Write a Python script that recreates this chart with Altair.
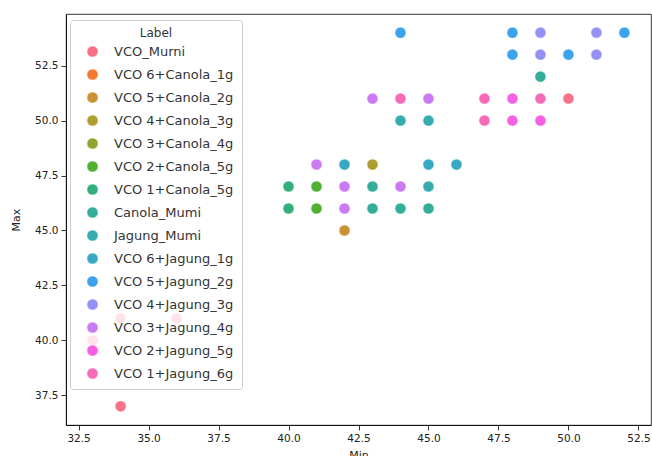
import math
import altair as alt
import pandas as pd

# ---------------- data ----------------
labels_order = [
    "VCO_Murni", "VCO 6+Canola_1g", "VCO 5+Canola_2g", "VCO 4+Canola_3g",
    "VCO 3+Canola_4g", "VCO 2+Canola_5g", "VCO 1+Canola_5g", "Canola_Mumi",
    "Jagung_Mumi", "VCO 6+Jagung_1g", "VCO 5+Jagung_2g", "VCO 4+Jagung_3g",
    "VCO 3+Jagung_4g", "VCO 2+Jagung_5g", "VCO 1+Jagung_6g",
]

point_label = (
    ["VCO_Murni"] * 5
    + ["VCO 5+Canola_2g"]
    + ["VCO 4+Canola_3g"]
    + ["VCO 2+Canola_5g"] * 2
    + ["VCO 1+Canola_5g"] * 2
    + ["Canola_Mumi"] * 5
    + ["Jagung_Mumi"] * 3
    + ["VCO 6+Jagung_1g"] * 3
    + ["VCO 5+Jagung_2g"] * 5
    + ["VCO 4+Jagung_3g"] * 4
    + ["VCO 3+Jagung_4g"] * 6
    + ["VCO 2+Jagung_5g"] * 3
    + ["VCO 1+Jagung_6g"] * 4
)
point_min = [
    34, 33, 34, 36, 50,
    42,
    43,
    41, 41,
    40, 40,
    43, 43, 44, 45, 49,
    45, 44, 45,
    42, 45, 46,
    44, 48, 52, 48, 50,
    49, 51, 49, 51,
    41, 42, 42, 44, 43, 45,
    48, 48, 49,
    44, 47, 49, 47,
]
point_max = [
    37, 40, 41, 41, 51,
    45,
    48,
    47, 46,
    47, 46,
    47, 46, 46, 46, 52,
    47, 50, 50,
    48, 48, 48,
    54, 54, 54, 53, 53,
    54, 54, 53, 53,
    48, 47, 46, 47, 51, 51,
    51, 50, 50,
    51, 51, 51, 50,
]

x_ticks = [32.5, 35.0, 37.5, 40.0, 42.5, 45.0, 47.5, 50.0, 52.5]
y_ticks = [37.5, 40.0, 42.5, 45.0, 47.5, 50.0, 52.5]

df = pd.DataFrame({"Label": point_label, "Min": point_min, "Max": point_max})

# ---------------- seaborn husl palette ----------------
_m = [[3.2406, -1.5372, -0.4986], [-0.9689, 1.8758, 0.0415], [0.0557, -0.2040, 1.0570]]


def _max_chroma(L, H):
    hrad = math.radians(H)
    sinH, cosH = math.sin(hrad), math.cos(hrad)
    sub1 = math.pow(L + 16, 3.0) / 1560896.0
    sub2 = sub1 if sub1 > 0.008856 else L / 903.3
    result = float("inf")
    for m1, m2, m3 in _m:
        top = (0.99915 * m1 + 1.05122 * m2 + 1.14460 * m3) * sub2
        rbottom = 0.86330 * m3 - 0.17266 * m2
        lbottom = 0.12949 * m3 - 0.38848 * m1
        bottom = (rbottom * sinH + lbottom * cosH) * sub2
        for t in (0.0, 1.0):
            C = L * (top - 1.05122 * t) / (bottom + 0.17266 * sinH * t)
            if 0.0 < C < result:
                result = C
    return result


def _husl_to_hex(h, s, l):
    C = _max_chroma(l, h) / 100.0 * s
    hr = math.radians(h)
    U, V = math.cos(hr) * C, math.sin(hr) * C
    t = (l + 16.0) / 116.0
    varY = t ** 3 if t ** 3 > 0.008856 else (116 * t - 16) / 903.3
    varU = U / (13.0 * l) + 0.19784
    varV = V / (13.0 * l) + 0.46834
    Y = varY
    X = 0.0 - (9.0 * Y * varU) / ((varU - 4.0) * varV - varU * varV)
    Z = (9.0 * Y - 15.0 * varV * Y - varV * X) / (3.0 * varV)
    out = []
    for row in _m:
        c = row[0] * X + row[1] * Y + row[2] * Z
        c = 12.92 * c if c <= 0.0031308 else 1.055 * math.pow(c, 1 / 2.4) - 0.055
        c = min(max(c, 0.0), 1.0)
        out.append(int(round(c * 255)))
    return "#%02x%02x%02x" % tuple(out)


n = len(labels_order)
palette = []
for i in range(n):
    hh = ((i / n) + 0.01) % 1 * 359
    palette.append(_husl_to_hex(hh, 0.9 * 99, 0.65 * 99))

FONT = "DejaVu Sans"

chart = (
    alt.Chart(df)
    .mark_circle(size=125, opacity=1, stroke="white", strokeWidth=0.6)
    .encode(
        x=alt.X(
            "Min:Q",
            scale=alt.Scale(domain=[32.05, 52.95], nice=False, zero=False),
            axis=alt.Axis(values=x_ticks, format=".1f", title="Min", titlePadding=6),
        ),
        y=alt.Y(
            "Max:Q",
            scale=alt.Scale(domain=[36.15, 54.85], nice=False, zero=False),
            axis=alt.Axis(values=y_ticks, format=".1f", title="Max", titlePadding=13),
        ),
        color=alt.Color(
            "Label:N",
            scale=alt.Scale(domain=labels_order, range=palette),
            legend=alt.Legend(
                title="Label",
                orient="none",
                legendX=4,
                legendY=6,
                titleAnchor="middle",
                titleFontSize=12,
                titleFontWeight="normal",
                titleColor="#333333",
                titleFont=FONT,
                labelFont=FONT,
                labelFontSize=13,
                labelColor="#333333",
                symbolType="circle",
                symbolSize=125,
                symbolStrokeColor="white",
                symbolStrokeWidth=0.5,
                symbolOpacity=1,
                symbolOffset=8,
                fillColor="rgba(255,255,255,0.8)",
                strokeColor="#cccccc",
                cornerRadius=3,
                padding=8,
                rowPadding=8,
                labelOffset=15,
                labelLimit=300,
            ),
        ),
    )
    .properties(width=585, height=411, padding={"left": 66, "top": 14, "right": 1, "bottom": 31}, autosize="none")
    .configure_view(stroke="#000000", strokeWidth=0.8)
    .configure_axis(
        grid=False,
        domainColor="#000000",
        domainWidth=0.8,
        tickColor="#000000",
        tickWidth=0.8,
        tickSize=5,
        labelFont=FONT,
        labelFontSize=10.5,
        labelColor="#222222",
        labelPadding=3,
        titleFont=FONT,
        titleFontSize=11,
        titleFontWeight="normal",
        titleColor="#222222",
    )
)

chart.save("out.html", embed_options={"renderer": "svg", "actions": False})
